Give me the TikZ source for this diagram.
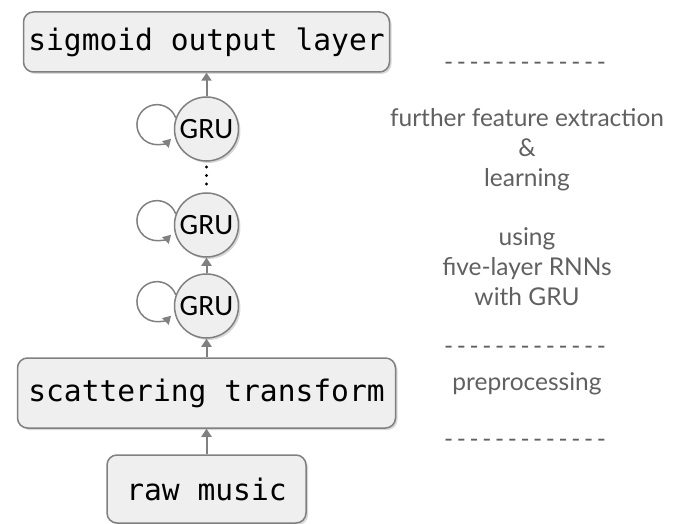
\documentclass[tikz,border=0pt]{standalone}
\usepackage{fontspec}
\usetikzlibrary{arrows.meta,shadows}
\newfontfamily\layermono{DejaVu Sans Mono}
\newfontfamily\grufont{Carlito}
\newfontfamily\notefont{Lato}
\definecolor{boxfill}{HTML}{EFEFEF}
\definecolor{boxline}{HTML}{808080}
\definecolor{notecol}{HTML}{606060}
\newcommand\dashseg{-\kern3.6pt}
\newcommand\dashrowtext{\dashseg\dashseg\dashseg\dashseg\dashseg\dashseg\dashseg\dashseg\dashseg\dashseg\dashseg\dashseg-}
\tikzset{
  layerbox/.style={draw=boxline, line width=1.5pt, fill=boxfill, rounded corners=10pt,
    font=\layermono\fontsize{29.6}{34}\selectfont, inner sep=0pt,
    drop shadow={opacity=0.3, shadow xshift=2pt, shadow yshift=-2pt}},
  grunode/.style={circle, draw=boxline, line width=1.5pt, fill=boxfill, minimum size=64pt,
    inner sep=0pt, font=\grufont\fontsize{29.5}{32}\selectfont,
    drop shadow={opacity=0.3, shadow xshift=2pt, shadow yshift=-2pt}},
  flow/.style={draw=boxline, line width=2pt, -{Triangle[width=10pt,length=8pt]}},
  selfloop/.style={draw=boxline, line width=1.5pt, -{Triangle[width=9pt,length=8pt]}},
  note/.style={font=\notefont\fontsize{24.5}{30}\selectfont, text=notecol, align=center},
  dashrow/.style={font=\notefont\fontsize{24.5}{30}\selectfont, text=notecol, inner sep=0pt},
  dotmark/.style={circle, fill=black, inner sep=0pt, minimum size=3.2pt}
}
\begin{document}
\begin{tikzpicture}[x=1pt,y=1pt]
\useasboundingbox (0,0) rectangle (678,-524);
% boxes
\node[layerbox, minimum width=366pt, minimum height=60pt] (sig) at (206.5,-42) {sigmoid output layer};
\node[layerbox, minimum width=378pt, minimum height=70pt] (scat) at (206.5,-393) {scattering transform};
\node[layerbox, minimum width=199pt, minimum height=68pt] (raw) at (206.5,-489) {raw music};
% GRUs
\node[grunode] (g1) at (206.5,-129) {GRU};
\node[grunode] (g2) at (206.5,-225) {GRU};
\node[grunode] (g3) at (206.5,-306) {GRU};
% dots
\node[dotmark] (dA) at (206.5,-167) {};
\node[dotmark] (dB) at (206.5,-175.5) {};
\node[dotmark] (dC) at (206.5,-184) {};
% flow arrows
\draw[flow] (raw.north) -- (scat.south);
\draw[flow] (scat.north) -- (g3.south);
\draw[flow] (g3.north) -- (g2.south);
\draw[flow] (g1.north) -- (sig.south);
% self loops
\draw[selfloop] (g1.160) arc[start angle=20, end angle=315, radius=20];
\draw[selfloop] (g2.160) arc[start angle=20, end angle=315, radius=20];
\draw[selfloop] (g3.160) arc[start angle=20, end angle=315, radius=20];
% notes
\node[dashrow] (d1) at (525,-66) {\dashrowtext};
\node[note] (n1) at (527,-150) {further feature extraction\\\&\\learning};
\node[note] (n2) at (527,-267) {using\\five-layer RNNs\\with GRU};
\node[dashrow] (d2) at (525,-350) {\dashrowtext};
\node[note] (n3) at (527,-384) {preprocessing};
\node[dashrow] (d3) at (525,-443) {\dashrowtext};
\end{tikzpicture}
\end{document}
